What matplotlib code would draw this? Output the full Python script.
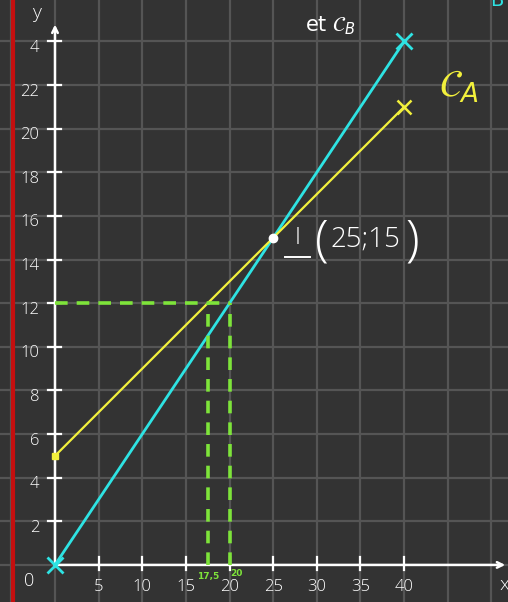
import numpy as np
import matplotlib.pyplot as plt

# droites C_A et C_B
x_pts = [0, 40]
yA = [5, 21]
yB = [0, 24]
I = (25, 15)
y_lecture = 12
x_lecture = [17.5, 20]

xticks = [5, 10, 15, 20, 25, 30, 35, 40]
yticks = [2, 4, 6, 8, 10, 12, 14, 16, 18, 20, 22, 24]
ytick_labels = ['2', '4', '6', '8', '10', '12', '14', '16', '18', '20', '22', '4']

bg = '#333333'
cyan = '#2ee3e3'
yellow = '#f2f03c'
green = '#7ee43a'

fig = plt.figure(figsize=(5.08, 6.02), dpi=100, facecolor=bg)
ax = fig.add_axes([0, 0, 1, 1])
ax.set_facecolor(bg)
ax.set_xlim(-6.3, 51.9)
ax.set_ylim(-1.7, 25.9)
ax.axis('off')

# quadrillage
for gx in range(-5, 55, 5):
    ax.axvline(gx, color='#555555', lw=1.6, zorder=0)
for gy in range(0, 26, 2):
    ax.axhline(gy, color='#555555', lw=1.6, zorder=0)

# marge rouge
ax.axvline(-4.8, color='#c40f0f', lw=3, zorder=1)

# axes
ax.annotate('', xy=(51.9, 0), xytext=(-0.1, 0),
            arrowprops=dict(arrowstyle='->', color='white', lw=1.8), zorder=3)
ax.annotate('', xy=(0, 24.9), xytext=(0, 0),
            arrowprops=dict(arrowstyle='->', color='white', lw=1.8), zorder=3)
for t in yticks:
    ax.plot([-0.8, 0.7], [t, t], color='white', lw=1.6, zorder=3)
for t in xticks:
    ax.plot([t, t], [-0.25, 0.35], color='white', lw=1.6, zorder=3)

hand = dict(color='white', family='Open Sans', fontweight='light')
for t, lab in zip(yticks, ytick_labels):
    ax.text(-1.8, t - 0.3, lab, ha='right', va='center', fontsize=12, **hand)
for t in xticks:
    ax.text(t, -1.0, str(t), ha='center', va='center', fontsize=12, **hand)
ax.text(-3.0, -0.75, '0', ha='center', va='center', fontsize=13, **hand)
ax.text(-2.0, 25.3, 'y', ha='center', va='center', fontsize=14, **hand)
ax.text(51.5, -0.9, 'x', ha='center', va='center', fontsize=14, **hand)

# courbes
ax.plot(x_pts, yB, color=cyan, lw=2, zorder=4)
ax.plot(x_pts, yB, 'x', color=cyan, ms=11, mew=2, zorder=5)
ax.plot(x_pts, yA, color=yellow, lw=1.6, zorder=4)
ax.plot(x_pts[1], yA[1], 'x', color=yellow, ms=10, mew=1.8, zorder=5)
ax.plot(x_pts[0], yA[0], 's', color=yellow, ms=4, zorder=5)

# lecture graphique
ax.plot([0, x_lecture[1]], [y_lecture, y_lecture], color=green, lw=2.6,
        ls=(0, (3.5, 2.5)), zorder=4)
for xv in x_lecture:
    ax.plot([xv, xv], [0, y_lecture], color=green, lw=2.6,
            ls=(0, (3.5, 2.5)), zorder=4)
ax.text(x_lecture[0], -0.55, '17,5', ha='center', va='center', fontsize=6.5,
        color=green, fontweight='bold')
ax.text(x_lecture[1] + 0.8, -0.4, '20', ha='center', va='center', fontsize=6.5,
        color=green, fontweight='bold', zorder=6)

# point d'intersection
ax.plot(*I, 'o', color='white', ms=6, zorder=6)
ax.text(27.8, 15.0, 'I', ha='center', va='center', fontsize=17, zorder=6, **hand)
ax.plot([26.4, 29.2], [14.1, 14.1], color='white', lw=1.4, zorder=6)
ax.text(30.6, 14.8, '(', ha='center', va='center', fontsize=36, zorder=6, **hand)
ax.text(35.6, 14.9, '25;15', ha='center', va='center', fontsize=20, zorder=6, **hand)
ax.text(40.9, 14.8, ')', ha='center', va='center', fontsize=36, zorder=6, **hand)

ax.text(44.0, 21.9, r'$\mathcal{C}_A$', ha='left', va='center', fontsize=27,
        color=yellow)
ax.text(28.6, 24.7, r'et $\mathcal{C}_B$', ha='left', va='center', fontsize=15,
        color='white')
ax.text(50.6, 25.9, 'B', ha='center', va='center', fontsize=14, color=cyan)

fig.savefig('out.png', dpi=100, facecolor=bg)
